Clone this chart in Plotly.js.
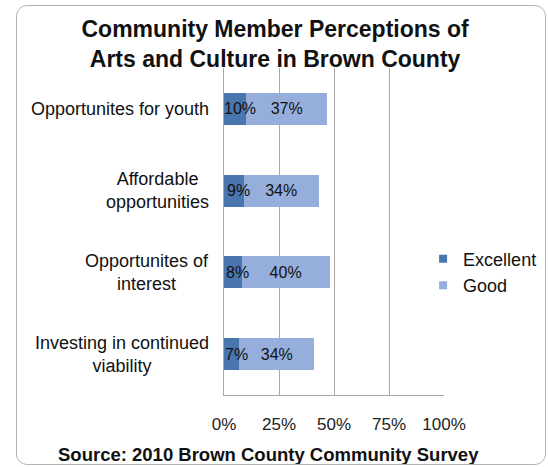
<!DOCTYPE html>
<html><head><meta charset="utf-8">
<script src="https://cdn.plot.ly/plotly-3.0.1.min.js"></script>
<style>
html,body{margin:0;padding:0;background:#fff;}
#wrap{position:relative;width:548px;height:467px;}
#chart{width:548px;height:467px;}
#frame{position:absolute;left:16px;top:5px;width:528px;height:458px;border:1px solid #b4b4b4;border-radius:11px;pointer-events:none;}
</style></head>
<body>
<div id="wrap"><div id="chart"></div><div id="frame"></div></div>
<script>
const categories = ["Opportunites for youth", "Affordable<br>opportunities", "Opportunites of<br>interest", "Investing in continued<br>viability"];
const excellent = [10, 9, 8, 7];
const good = [37, 34, 40, 34];
const seriesNames = ["Excellent", "Good"];
const seriesColors = ["#4a76b0", "#95aedb"];
const tickVals = [0, 25, 50, 75, 100];
const tickText = ["0%", "25%", "50%", "75%", "100%"];
const titleText = "Community Member Perceptions of<br>Arts and Culture in Brown County";
const sourceText = "Source: 2010 Brown County Community Survey";

const fontFam = "Liberation Sans, Arial, sans-serif";
const labelFont = {family:fontFam, size:16, color:"#111"};
const traces = [
  {type:"bar", orientation:"h", name:seriesNames[0], y:categories, x:excellent, showlegend:false,
   marker:{color:seriesColors[0]}, textposition:"none", hoverinfo:"none"},
  {type:"bar", orientation:"h", name:seriesNames[1], y:categories, x:good, showlegend:false,
   marker:{color:seriesColors[1]}, text:good.map(v=>v+"%"), textposition:"inside", textangle:0,
   insidetextanchor:"middle", textfont:labelFont, hoverinfo:"none"},
  // legend entries (square swatches like the reference)
  {type:"scatter", mode:"markers", name:seriesNames[0], x:[null], y:[null],
   marker:{symbol:"square", size:8, color:seriesColors[0]}, hoverinfo:"none"},
  {type:"scatter", mode:"markers", name:seriesNames[1], x:[null], y:[null],
   marker:{symbol:"square", size:8, color:seriesColors[1]}, hoverinfo:"none"}
];
const catAnnotations = categories.map(c => ({
  xref:"paper", yref:"y", x:0, y:c, xanchor:"right", yanchor:"middle", xshift:-13,
  text:c, align:"center", showarrow:false, font:{family:fontFam, size:18, color:"#111"}
}));
// value labels for the Excellent segments, centred on each segment (they overflow it, as in the reference)
const excAnnotations = excellent.map((v, i) => ({
  xref:"x", yref:"y", x:v/2, y:categories[i], xanchor:"center", yanchor:"middle", xshift:5,
  text:v+"%", showarrow:false, font:labelFont
}));
const layout = {
  width:548, height:467, barmode:"stack", bargap:0.61,
  margin:{l:224, r:104, t:68, b:72, autoexpand:false},
  paper_bgcolor:"rgba(0,0,0,0)", plot_bgcolor:"#fff",
  font:{family:fontFam, size:17, color:"#111"},
  title:{text:"<b>"+titleText+"</b>",
         font:{family:fontFam,size:23,color:"#111"}, x:0.502, xanchor:"center", xref:"container",
         y:0.92, yanchor:"middle"},
  xaxis:{range:[0,100], tickvals:tickVals, ticktext:tickText, showgrid:true, gridcolor:"#a8a8a8",
         gridwidth:1, zeroline:false, showline:true, linecolor:"#a8a8a8", ticks:"", ticklabelstandoff:14,
         tickfont:{family:fontFam,size:17,color:"#222"}, fixedrange:true},
  yaxis:{autorange:"reversed", showline:true, linecolor:"#a8a8a8", ticks:"", showticklabels:false,
         fixedrange:true, type:"category"},
  legend:{x:0.905, xanchor:"left", y:0.376, yanchor:"middle", font:{family:fontFam,size:18,color:"#111"},
          traceorder:"normal", bgcolor:"rgba(0,0,0,0)"},
  annotations:catAnnotations.concat(excAnnotations, [{xref:"paper", yref:"paper", x:0.2, y:-0.182, xanchor:"center", yanchor:"middle",
    text:"<b>"+sourceText+"</b>", showarrow:false,
    font:{family:fontFam,size:18.5,color:"#111"}}])
};
Plotly.newPlot("chart", traces, layout, {displayModeBar:false, staticPlot:true});
</script>
</body></html>
